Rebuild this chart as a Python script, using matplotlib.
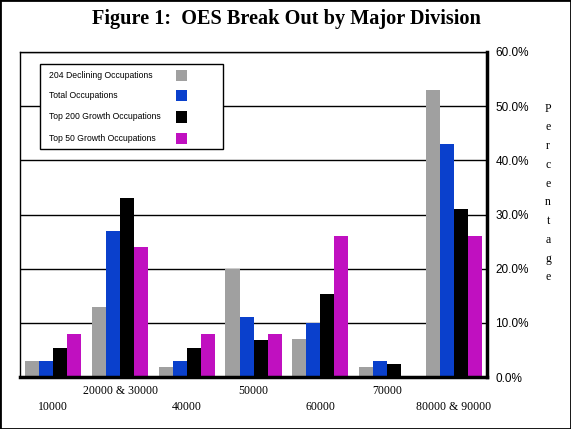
import numpy as np
import matplotlib
matplotlib.use('Agg')
import matplotlib.pyplot as plt
from matplotlib.patches import Rectangle

# data
divisions = ['10000', '20000 & 30000', '40000', '50000', '60000', '70000', '80000 & 90000']
series_names = ['204 Declining Occupations', 'Total Occupations',
                'Top 200 Growth Occupations', 'Top 50 Growth Occupations']
declining = [3.0, 13.0, 1.8, 20.0, 7.0, 1.8, 53.0]
total = [3.0, 27.0, 3.0, 11.0, 10.0, 3.0, 43.0]
top200 = [5.4, 33.0, 5.4, 6.8, 15.3, 2.4, 31.0]
top50 = [8.0, 24.0, 8.0, 8.0, 26.0, 0.0, 26.0]
yticks = [0, 10, 20, 30, 40, 50, 60]

colors = ['#a0a0a0', '#0a40cc', '#000000', '#c010c0']
values = [declining, total, top200, top50]

fig = plt.figure(figsize=(5.71, 4.29), dpi=100)
ax = fig.add_axes([0.035, 0.1212, 0.818, 0.7576])

x = np.arange(len(divisions))
w = 0.21
for i, vals in enumerate(values):
    ax.bar(x + (i - 1.5) * w, vals, w, color=colors[i], zorder=3)

ax.set_xlim(-0.5, len(divisions) - 0.5)
ax.set_ylim(0, 60)

# grid lines
for t in yticks[1:]:
    ax.axhline(t, color='black', lw=1, zorder=1)

ax.yaxis.tick_right()
ax.set_yticks(yticks)
ax.set_yticklabels(['%.1f%%' % t for t in yticks], fontsize=8.5, family='Liberation Sans')
ax.tick_params(axis='y', length=0, pad=6)
ax.set_xticks([])

for s in ['left', 'top']:
    ax.spines[s].set_linewidth(1)
ax.spines['right'].set_linewidth(2.5)
ax.spines['bottom'].set_linewidth(2.5)
ax.spines['right'].set_zorder(4)
ax.spines['bottom'].set_zorder(4)

# staggered category labels
for i, name in enumerate(divisions):
    off = -10 if i % 2 == 1 else -21.5
    ax.annotate(name, xy=(i, 0), xycoords=('data', 'axes fraction'),
                xytext=(0, off), textcoords='offset points',
                ha='center', va='center', fontsize=8.5, family='Liberation Serif')

# legend box drawn by hand (text left, swatch right)
ax.add_patch(Rectangle((0.043, 0.7015), 0.392, 0.2615, transform=ax.transAxes,
                       facecolor='white', edgecolor='black', lw=1, zorder=5))
rows = [0.929, 0.865, 0.800, 0.735]
for name, c, yy in zip(series_names, colors, rows):
    ax.text(0.062, yy, name, transform=ax.transAxes, fontsize=6.2,
            family='Liberation Sans', va='center', ha='left', zorder=6)
    ax.add_patch(Rectangle((0.334, yy - 0.017), 0.0236, 0.034, transform=ax.transAxes,
                           facecolor=c, edgecolor='none', zorder=6))

fig.text(0.501, 0.955, 'Figure 1:  OES Break Out by Major Division', ha='center', va='center',
         fontsize=14.6, fontweight='bold', family='Liberation Serif')

fig.text(0.96, 0.55, '\n'.join('Percentage'), ha='center', va='center',
         fontsize=8.5, family='Liberation Serif', linespacing=1.75)

# frame around the whole picture
fig.add_artist(Rectangle((0, 0), 1, 1, transform=fig.transFigure, fill=False,
                         edgecolor='black', lw=2))

fig.savefig('out.png', dpi=100)
